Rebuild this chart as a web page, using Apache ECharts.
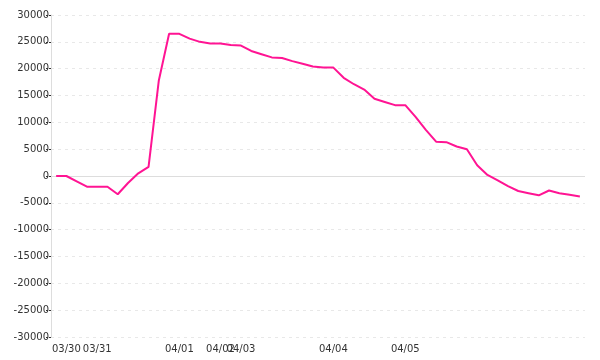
<!DOCTYPE html>
<html>
<head>
<meta charset="utf-8">
<script src="https://cdn.jsdelivr.net/npm/echarts@6/dist/echarts.min.js"></script>
<style>html,body{margin:0;padding:0;background:#fff}#c{width:600px;height:360px}</style>
</head>
<body>
<div id="c"></div>
<script>
const categories = ['', '03/30', '', '', '03/31', '', '', '', '', '', '', '', '04/01', '', '', '', '04/02', '', '04/03', '', '', '', '', '', '', '', '', '04/04', '', '', '', '', '', '', '04/05', '', '', '', '', '', '', '', '', '', '', '', '', '', '', '', '', ''];
const values = [0, 0, -1000, -2000, -2000, -2000, -3400, -1300, 500, 1700, 17800, 26500, 26500, 25600, 25000, 24700, 24700, 24400, 24300, 23300, 22700, 22100, 22000, 21400, 20900, 20400, 20200, 20200, 18300, 17100, 16100, 14400, 13800, 13200, 13200, 11000, 8600, 6400, 6300, 5500, 5000, 2000, 200, -800, -1900, -2800, -3200, -3600, -2700, -3200, -3500, -3800];
const yMin = -30000, yMax = 30000, yStep = 5000;

const chart = echarts.init(document.getElementById('c'));
const font = 'DejaVu Sans';
chart.setOption({
  animation: false,
  grid: { left: 51, right: 15, top: 15, bottom: 23 },
  xAxis: {
    type: 'category',
    data: categories,
    boundaryGap: true,
    axisLine: { show: false },
    axisTick: { show: false },
    splitLine: { show: false },
    axisLabel: { interval: 0, color: '#333', fontFamily: font, fontSize: 10, margin: 7 }
  },
  yAxis: {
    type: 'value',
    min: yMin, max: yMax, interval: yStep,
    axisLine: { show: true, lineStyle: { color: '#dddddd' } },
    axisTick: { show: true, length: 6, lineStyle: { color: '#333', type: [2, 1] } },
    axisLabel: { color: '#333', fontFamily: font, fontSize: 10, margin: 2, formatter: v => String(v) },
    splitLine: { show: true, lineStyle: { color: '#e8e8e8', type: [3, 4] } }
  },
  series: [{
    type: 'line',
    data: values,
    showSymbol: false,
    symbol: 'none',
    z: 3,
    lineStyle: { color: '#ff1493', width: 2 },
    itemStyle: { color: '#ff1493' },
    markLine: {
      silent: true,
      symbol: 'none',
      z: 1,
      label: { show: false },
      lineStyle: { color: '#dddddd', type: 'solid', width: 1 },
      data: [{ yAxis: 0 }]
    }
  }]
});
</script>
</body>
</html>
